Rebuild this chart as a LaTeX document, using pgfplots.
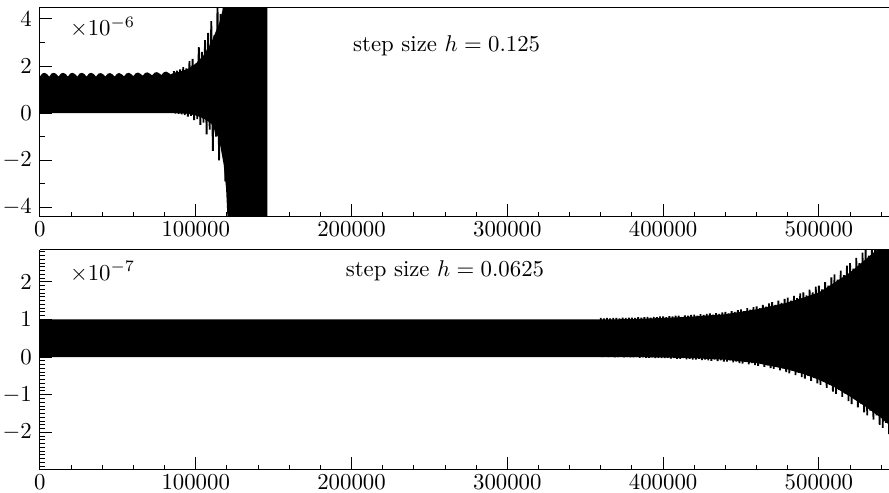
\documentclass[border=0pt]{standalone}
\usepackage{pgfplots}
\pgfplotsset{compat=1.18}
\pgfplotsset{
  stepax/.style={
    scale only axis, width=372.4pt,
    xmin=0, xmax=545000,
    xtick={0,100000,200000,300000,400000,500000},
    minor xtick={20000,40000,...,540000},
    scaled x ticks=false,
    xticklabel style={/pgf/number format/fixed, /pgf/number format/precision=0,
      /pgf/number format/1000 sep={}, yshift=1.5pt},
    axis x line*=box, axis y line*=left,
    xtick pos=left, ytick pos=left,
    tick align=inside,
    major tick length=5.5pt, minor tick length=2.2pt,
    tick style={black, line width=0.4pt},
    clip=true,
  }
}
\begin{document}
\begin{tikzpicture}
\path[use as bounding box] (-17.5pt,-10.1pt) rectangle (372.4pt,206.1pt);
% ---------------- top axis ----------------
\begin{axis}[stepax, at={(0pt,111pt)}, anchor=south west, height=92pt,
  ymin=-4.4, ymax=4.5, ytick={-4,-2,0,2,4}, minor ytick={-3,-1,1,3}]
\addplot[fill=black, draw=none] coordinates {
(0,0) (0,1.55) (1500,1.68) (3000,1.71) (4500,1.66) (6000,1.55)
(7500,1.68) (9000,1.71) (10500,1.66) (12000,1.55)
(13500,1.68) (15000,1.71) (16500,1.66) (18000,1.55)
(19500,1.68) (21000,1.71) (22500,1.66) (24000,1.55)
(25500,1.68) (27000,1.71) (28500,1.66) (30000,1.55)
(31500,1.68) (33000,1.71) (34500,1.66) (36000,1.55)
(37500,1.67) (39000,1.70) (40500,1.65) (42000,1.55)
(43500,1.67) (45000,1.70) (46500,1.65) (48000,1.55)
(49500,1.67) (51000,1.70) (52500,1.65) (54000,1.56)
(55500,1.68) (57000,1.71) (58500,1.66) (60000,1.57)
(61500,1.69) (63000,1.72) (64500,1.67) (66000,1.59)
(67500,1.70) (69000,1.73) (70500,1.68) (72000,1.60)
(73500,1.71) (75000,1.74) (76500,1.69) (78000,1.62)
(79500,1.73) (81000,1.76) (82500,1.71) (84000,1.64)
(86000,1.72) (90000,1.76) (95000,1.88) (100000,2.1) (105000,2.45)
(110000,3.0) (115000,3.8) (119000,4.8) (121000,6) (146000,6)
(146000,-6) (121500,-6) (119500,-3.2) (118000,-2.2) (115000,-1.1)
(110000,-0.45) (105000,-0.22) (100000,-0.1) (95000,-0.03) (88000,0) (0,0)
};
\addplot[black, line width=0.8pt] coordinates {
(86000,1.78) (87000,-0.02) (88000,1.80) (89000,-0.03) (90000,1.85)
(91000,-0.05) (92000,1.95) (93000,-0.08) (94000,1.90) (95000,-0.15)
(96000,2.20) (97000,-0.12) (98000,2.30) (99000,-0.30) (100000,2.10)
(101000,-0.25) (102000,2.80) (103000,-0.50) (104000,2.60) (105000,-0.40)
(106000,3.10) (107000,-0.90) (108000,3.40) (109000,-0.70) (110000,3.90)
(111000,-1.60) (112000,3.30) (113000,-1.00) (114000,4.60) (115000,-2.00)
(116000,4.20) (117000,-1.50) (118000,5.00) (119000,-2.90) (120000,5.00)
(121000,-2.60) (122000,5.00) (123000,-5.00) (124000,5.00)
};
\node[anchor=west] at (rel axis cs:0.026,0.905) {$\times10^{-6}$};
\node at (rel axis cs:0.479,0.815) {step size $h=0.125$};
\end{axis}
% ---------------- bottom axis ----------------
\begin{axis}[stepax, at={(0pt,0pt)}, anchor=south west, height=96.5pt,
  ymin=-3, ymax=2.85, ytick={-2,-1,0,1,2}, minor ytick={-2.9,-2.8,...,2.85}]
\addplot[fill=black, draw=none] coordinates {
(0,0) (0,1.0) (360000,1.0) (380000,1.01) (400000,1.04) (420000,1.08)
(440000,1.14) (460000,1.27) (480000,1.45) (490000,1.58) (500000,1.72)
(510000,1.98) (520000,2.25) (530000,2.6) (540000,2.95) (545000,3.1)
(545000,-1.8) (540000,-1.62) (530000,-1.32) (520000,-1.05) (510000,-0.8)
(500000,-0.6) (490000,-0.45) (480000,-0.33) (460000,-0.16) (440000,-0.07)
(420000,-0.03) (400000,-0.01) (380000,0) (0,0)
};
\addplot[black, line width=0.8pt] coordinates {
(360000,1.04) (361000,0.00) (362000,1.03) (363000,0.01) (364000,1.04) (365000,0.00)
(366000,1.03) (367000,0.01) (368000,1.04) (369000,-0.01) (370000,1.04) (371000,0.00)
(372000,1.03) (373000,0.01) (374000,1.05) (375000,-0.01) (376000,1.04) (377000,0.00)
(378000,1.05) (379000,-0.01) (380000,1.05) (381000,-0.01) (382000,1.04) (383000,0.00)
(384000,1.06) (385000,-0.02) (386000,1.05) (387000,-0.01) (388000,1.06) (389000,-0.02)
(390000,1.07) (391000,-0.02) (392000,1.05) (393000,-0.01) (394000,1.07) (395000,-0.03)
(396000,1.06) (397000,-0.02) (398000,1.08) (399000,-0.03) (400000,1.08) (401000,-0.03)
(402000,1.06) (403000,-0.02) (404000,1.09) (405000,-0.04) (406000,1.08) (407000,-0.03)
(408000,1.10) (409000,-0.05) (410000,1.10) (411000,-0.05) (412000,1.07) (413000,-0.03)
(414000,1.11) (415000,-0.06) (416000,1.10) (417000,-0.05) (418000,1.12) (419000,-0.07)
(420000,1.13) (421000,-0.07) (422000,1.10) (423000,-0.05) (424000,1.14) (425000,-0.08)
(426000,1.12) (427000,-0.07) (428000,1.15) (429000,-0.09) (430000,1.16) (431000,-0.10)
(432000,1.13) (433000,-0.07) (434000,1.17) (435000,-0.11) (436000,1.15) (437000,-0.09)
(438000,1.19) (439000,-0.12) (440000,1.20) (441000,-0.12) (442000,1.16) (443000,-0.09)
(444000,1.22) (445000,-0.14) (446000,1.20) (447000,-0.12) (448000,1.25) (449000,-0.16)
(450000,1.27) (451000,-0.17) (452000,1.22) (453000,-0.13) (454000,1.30) (455000,-0.19)
(456000,1.26) (457000,-0.16) (458000,1.33) (459000,-0.21) (460000,1.35) (461000,-0.23)
(462000,1.30) (463000,-0.18) (464000,1.39) (465000,-0.26) (466000,1.34) (467000,-0.22)
(468000,1.43) (469000,-0.29) (470000,1.46) (471000,-0.31) (472000,1.39) (473000,-0.25)
(474000,1.50) (475000,-0.35) (476000,1.44) (477000,-0.30) (478000,1.55) (479000,-0.40)
(480000,1.58) (481000,-0.43) (482000,1.50) (483000,-0.36) (484000,1.63) (485000,-0.48)
(486000,1.57) (487000,-0.42) (488000,1.69) (489000,-0.53) (490000,1.72) (491000,-0.57)
(492000,1.64) (493000,-0.49) (494000,1.79) (495000,-0.63) (496000,1.72) (497000,-0.56)
(498000,1.87) (499000,-0.70) (500000,1.90) (501000,-0.74) (502000,1.80) (503000,-0.65)
(504000,1.99) (505000,-0.82) (506000,1.90) (507000,-0.74) (508000,2.12) (509000,-0.92)
(510000,2.20) (511000,-0.98) (512000,2.06) (513000,-0.87) (514000,2.30) (515000,-1.06)
(516000,2.18) (517000,-0.97) (518000,2.43) (519000,-1.17) (520000,2.50) (521000,-1.25)
(522000,2.35) (523000,-1.12) (524000,2.64) (525000,-1.34) (526000,2.50) (527000,-1.24)
(528000,2.78) (529000,-1.47) (530000,2.85) (531000,-1.55) (532000,2.70) (533000,-1.42)
(534000,3.00) (535000,-1.66) (536000,2.85) (537000,-1.55) (538000,3.10) (539000,-1.80)
(540000,3.20) (541000,-1.88) (542000,3.00) (543000,-1.75) (544000,3.30) (545000,-2.05)
};
\node[anchor=west] at (rel axis cs:0.026,0.9) {$\times10^{-7}$};
\node at (rel axis cs:0.477,0.905) {step size $h=0.0625$};
\end{axis}
\end{tikzpicture}
\end{document}
